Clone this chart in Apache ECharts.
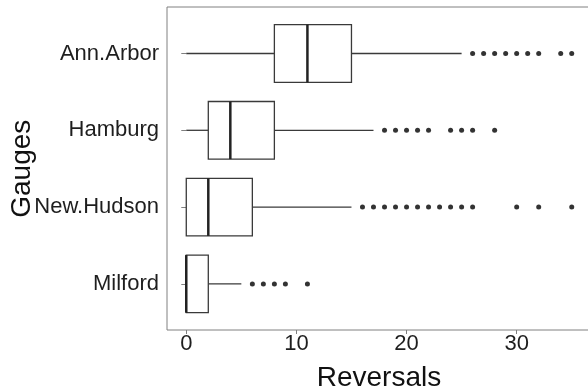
<!DOCTYPE html>
<html><head><meta charset="utf-8">
<script src="https://cdn.jsdelivr.net/npm/echarts@6/dist/echarts.min.js"></script>
<style>html,body{margin:0;padding:0;background:#fff}#c{width:588px;height:390px}</style>
</head><body><div id="c"></div>
<script>
// Categories bottom -> top
const gauges = ['Milford', 'New.Hudson', 'Hamburg', 'Ann.Arbor'];
// [lower whisker, Q1, median, Q3, upper whisker]
const stats = {
  'Milford':    [0, 0, 0, 2, 5],
  'New.Hudson': [0, 0, 2, 6, 15],
  'Hamburg':    [0, 2, 4, 8, 17],
  'Ann.Arbor':  [0, 8, 11, 15, 25]
};
const outliers = {
  'Milford':    [6, 7, 8, 9, 11],
  'New.Hudson': [16, 17, 18, 19, 20, 21, 22, 23, 24, 25, 26, 30, 32, 35],
  'Hamburg':    [18, 19, 20, 21, 22, 24, 25, 26, 28],
  'Ann.Arbor':  [26, 27, 28, 29, 30, 31, 32, 34, 35]
};
const xTicks = [0, 10, 20, 30];
const xMin = -1.75, xMax = 36.75;

const boxData = gauges.map((g, i) => [i].concat(stats[g]));
const outData = [];
gauges.forEach((g, i) => outliers[g].forEach(v => outData.push([v, i])));

const boxColor = '#3a3a3a';
const chart = echarts.init(document.getElementById('c'), null, {renderer: 'canvas'});
chart.setOption({
  animation: false,
  grid: [
    {left: 167, right: -3, top: 15.1, bottom: 67.7, outerBoundsMode: 'none', containLabel: false},
    {left: 167, right: -3, top: 7, bottom: 60, outerBoundsMode: 'none', containLabel: false,
     show: true, borderColor: '#808080', borderWidth: 1, backgroundColor: 'transparent'}
  ],
  xAxis: [
    {gridIndex: 0, type: 'value', min: xMin, max: xMax, show: false},
    {gridIndex: 1, type: 'value', min: xMin, max: xMax,
     axisLine: {show: false}, splitLine: {show: false},
     axisTick: {show: true, length: 4, lineStyle: {color: '#808080'}, customValues: xTicks},
     axisLabel: {fontSize: 22, color: '#1e1e1e', fontFamily: 'Liberation Sans', margin: 3, customValues: xTicks},
     name: 'Reversals', nameLocation: 'middle', nameGap: 34, nameMoveOverlap: false,
     nameTextStyle: {fontSize: 28, color: '#111', fontFamily: 'Liberation Sans'}}
  ],
  yAxis: [
    {gridIndex: 0, type: 'category', data: gauges,
     axisLine: {show: false},
     axisTick: {show: true, alignWithLabel: true, length: 5, lineStyle: {color: '#808080'}},
     axisLabel: {fontSize: 22, color: '#1e1e1e', fontFamily: 'Liberation Sans', margin: 8},
     name: 'Gauges', nameLocation: 'middle', nameGap: 131, nameRotate: 90, nameMoveOverlap: false,
     nameTextStyle: {fontSize: 28, color: '#111', fontFamily: 'Liberation Sans'}},
    {gridIndex: 1, type: 'value', min: 0, max: 1, show: false}
  ],
  series: [
    {
      type: 'custom', xAxisIndex: 0, yAxisIndex: 0,
      data: boxData,
      encode: {y: 0, x: [1, 2, 3, 4, 5]},
      renderItem: function (params, api) {
        const c = api.value(0);
        const p = [1, 2, 3, 4, 5].map(k => api.coord([api.value(k), c]));
        const band = api.size([0, 1])[1];
        const h = band * 0.75;
        const y = p[0][1];
        const ls = {stroke: boxColor, lineWidth: 1.3, fill: null};
        return {
          type: 'group',
          children: [
            {type: 'line', shape: {x1: p[0][0], y1: y, x2: p[1][0], y2: y}, style: ls},
            {type: 'line', shape: {x1: p[3][0], y1: y, x2: p[4][0], y2: y}, style: ls},
            {type: 'rect', shape: {x: p[1][0], y: y - h / 2, width: p[3][0] - p[1][0], height: h}, style: {stroke: boxColor, lineWidth: 1.3, fill: '#fff'}},
            {type: 'line', shape: {x1: p[2][0], y1: y - h / 2, x2: p[2][0], y2: y + h / 2}, style: {stroke: '#222', lineWidth: 2.5}}
          ]
        };
      }
    },
    {
      type: 'scatter', xAxisIndex: 0, yAxisIndex: 0,
      data: outData, symbol: 'circle', symbolSize: 5,
      itemStyle: {color: '#000'}
    }
  ]
});
</script></body></html>
